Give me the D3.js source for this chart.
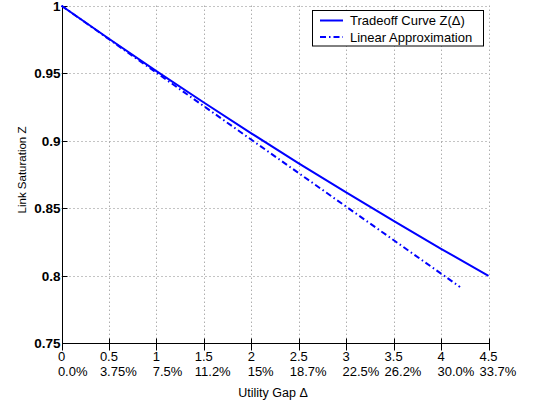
<!DOCTYPE html>
<html>
<head>
<meta charset="utf-8">
<script src="https://cdn.jsdelivr.net/npm/d3@7"></script>
<style>
  html, body { margin: 0; padding: 0; background: #fff; }
  svg { display: block; }
  text { font-family: "Liberation Sans", Arial, Helvetica, sans-serif; fill: #000; }
</style>
</head>
<body>
<svg id="chart" width="535" height="404"></svg>
<script>
// ---- data ----
const deltaValues = [0, 0.5, 1, 1.5, 2, 2.5, 3, 3.5, 4, 4.5];
const tradeoffZ   = [1.000, 0.9755, 0.9516, 0.9283, 0.9055, 0.8833, 0.8617, 0.8406, 0.8200, 0.8000];
const linearDelta = [0, 4.2];
const linearZ     = [1.000, 0.7917];
const xTicks = [0, 0.5, 1, 1.5, 2, 2.5, 3, 3.5, 4, 4.5];
const xTickLabels = ["0", "0.5", "1", "1.5", "2", "2.5", "3", "3.5", "4", "4.5"];
const xTickPercents = ["0.0%", "3.75%", "7.5%", "11.2%", "15%", "18.7%", "22.5%", "26.2%", "30.0%", "33.7%"];
const yTicks = [0.75, 0.8, 0.85, 0.9, 0.95, 1];
const yTickLabels = ["0.75", "0.8", "0.85", "0.9", "0.95", "1"];
const seriesNames = ["Tradeoff Curve Z(\u0394)", "Linear Approximation"];

// ---- layout ----
const svg = d3.select("#chart");
const x = d3.scaleLinear().domain([0, 4.5]).range([61.5, 488.5]);
const y = d3.scaleLinear().domain([0.75, 1]).range([343.3, 5.7]);
const blue = "#0000ff";

// grid
const grid = svg.append("g").attr("stroke", "#888").attr("stroke-width", 1).attr("stroke-dasharray", "1,3");
grid.selectAll("line.vx").data(xTicks.slice(1)).join("line")
  .attr("x1", d => Math.round(x(d)) + 0.5).attr("x2", d => Math.round(x(d)) + 0.5)
  .attr("y1", y(1)).attr("y2", y(0.75));
grid.selectAll("line.hy").data(yTicks.slice(1)).join("line")
  .attr("y1", d => Math.round(y(d)) + 0.5).attr("y2", d => Math.round(y(d)) + 0.5)
  .attr("x1", x(0)).attr("x2", x(4.5));

// axes lines
const ax = svg.append("g").attr("stroke", "#000").attr("stroke-width", 1);
const x0 = Math.round(x(0)) + 0.5, yb = Math.round(y(0.75)) + 0.5;
ax.append("line").attr("x1", x0).attr("x2", x0).attr("y1", y(1)).attr("y2", yb);
ax.append("line").attr("x1", x0).attr("x2", Math.round(x(4.5)) + 0.5).attr("y1", yb).attr("y2", yb);
// x ticks (up and down)
ax.selectAll("line.xt").data(xTicks).join("line")
  .attr("x1", d => Math.round(x(d)) + 0.5).attr("x2", d => Math.round(x(d)) + 0.5)
  .attr("y1", yb - 5).attr("y2", yb + 7);
// y ticks (inward)
ax.selectAll("line.yt").data(yTicks).join("line")
  .attr("y1", d => Math.round(y(d)) + 0.5).attr("y2", d => Math.round(y(d)) + 0.5)
  .attr("x1", x0).attr("x2", x0 + 5);

// y tick labels
svg.append("g").selectAll("text").data(yTicks).join("text")
  .attr("x", x0 - 2).attr("y", d => y(d)).attr("dy", "0.36em")
  .attr("text-anchor", "end").attr("font-size", 13.5).attr("font-weight", "bold")
  .text((d, i) => yTickLabels[i]);

// x tick labels (two lines, left-aligned to the centered first line)
const xl = svg.append("g").attr("font-size", 13);
xTicks.forEach((d, i) => {
  const t = xl.append("text").attr("y", 361);
  const t1 = t.append("tspan").text(xTickLabels[i]);
  const w1 = t1.node().getComputedTextLength();
  const left = x(d) - w1 / 2;
  t.attr("x", left);
  t1.attr("x", left);
  t.append("tspan").attr("x", left).attr("y", 375.5).text(xTickPercents[i]);
});

// axis labels
svg.append("text").attr("x", 273).attr("y", 397).attr("text-anchor", "middle")
  .attr("font-size", 12.5).text("Utility Gap \u0394");
svg.append("text").attr("transform", "translate(25.5,170) rotate(-90)")
  .attr("text-anchor", "middle").attr("font-size", 11.5).text("Link Saturation Z");

// series
const line = d3.line().x(d => x(d[0])).y(d => y(d[1]));
svg.append("path")
  .datum(deltaValues.map((d, i) => [d, tradeoffZ[i]]))
  .attr("d", line.curve(d3.curveMonotoneX))
  .attr("fill", "none").attr("stroke", blue).attr("stroke-width", 2);
svg.append("path")
  .datum(linearDelta.map((d, i) => [d, linearZ[i]]))
  .attr("d", d3.line().x(d => x(d[0])).y(d => y(d[1])))
  .attr("fill", "none").attr("stroke", blue).attr("stroke-width", 2)
  .attr("stroke-dasharray", "6,3,1.5,3");

// legend
const lg = svg.append("g");
lg.append("rect").attr("x", 312.5).attr("y", 10.5).attr("width", 171).attr("height", 35.5)
  .attr("fill", "#fff").attr("stroke", "#000").attr("stroke-width", 1);
const legendDash = [null, "6,3,1.5,3"];
seriesNames.forEach((name, i) => {
  const ly = 20.5 + i * 16.5;
  lg.append("line").attr("x1", 320).attr("x2", 343).attr("y1", ly).attr("y2", ly)
    .attr("stroke", blue).attr("stroke-width", 2)
    .attr("stroke-dasharray", legendDash[i]);
  lg.append("text").attr("x", 350).attr("y", ly).attr("dy", "0.36em")
    .attr("font-size", 13).text(name);
});
</script>
</body>
</html>
